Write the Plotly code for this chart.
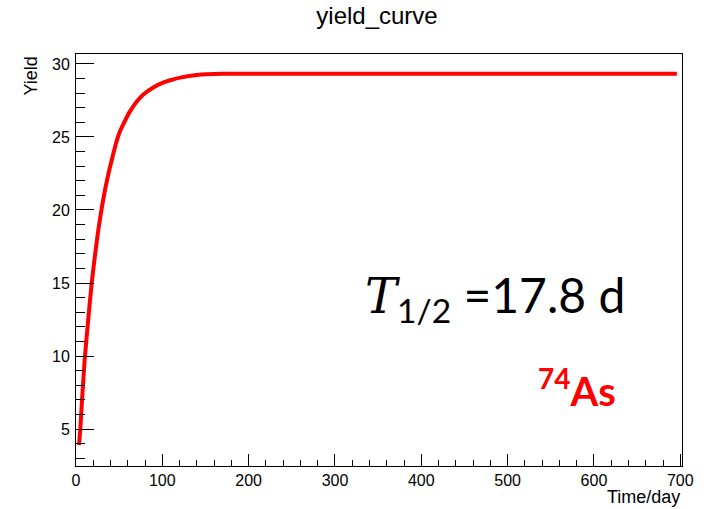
import plotly.graph_objects as go

# Data
time_day = [3.5, 5, 7, 10, 14, 18, 22, 26, 30, 34, 38, 43, 47, 51, 55, 62, 70, 78,
            90, 100, 110, 122, 140, 169, 200, 300, 400, 500, 600, 696]
yield_val = [3.9, 5.0, 7.0, 9.7, 12.4, 14.9, 16.9, 18.7, 20.2, 21.5, 22.6, 23.8,
             24.7, 25.4, 25.9, 26.7, 27.4, 27.9, 28.4, 28.7, 28.9, 29.08,
             29.24, 29.32, 29.32, 29.32, 29.32, 29.32, 29.32, 29.32]

x_range = [0, 702]
y_range = [2.47, 30.68]

fig = go.Figure()
fig.add_trace(go.Scatter(x=time_day, y=yield_val, mode="lines",
                         line=dict(color="#ff0000", width=4, shape="spline", smoothing=0.5),
                         showlegend=False))

axis_font = dict(family="Liberation Sans, Arial, sans-serif", size=16, color="black")

fig.update_layout(
    width=706, height=509,
    margin=dict(l=76, r=24, t=54, b=43),
    paper_bgcolor="white", plot_bgcolor="white",
    font=dict(family="Liberation Sans, Arial, sans-serif", color="black"),
    xaxis=dict(range=x_range, showgrid=False, zeroline=False, showline=True,
               linecolor="black", linewidth=1, mirror=True,
               ticks="inside", ticklen=12, tickcolor="black", tickwidth=1,
               dtick=100, tick0=0, tickfont=axis_font,
               minor=dict(ticks="inside", ticklen=6, dtick=20, tickcolor="black", showgrid=False)),
    yaxis=dict(range=y_range, showgrid=False, zeroline=False, showline=True,
               linecolor="black", linewidth=1, mirror=True,
               ticks="inside", ticklen=18, tickcolor="black", tickwidth=1,
               dtick=5, tick0=0, tickfont=axis_font, ticklabelstandoff=2,
               minor=dict(ticks="inside", ticklen=9, dtick=1, tickcolor="black", showgrid=False)),
    title=dict(text="yield_curve", x=377/706, xref="container", xanchor="center",
               y=1 - 16/509, yanchor="middle",
               font=dict(family="Liberation Sans, Arial, sans-serif", size=24, color="black")),
)

fig.add_annotation(text="Time/day", xref="paper", yref="paper", x=1.0, y=-(497-466)/412,
                   xanchor="right", yanchor="middle", showarrow=False,
                   font=dict(family="Liberation Sans, Arial, sans-serif", size=18, color="black"))
fig.add_annotation(text="Yield", xref="paper", yref="paper", x=-(76-30)/606, y=1.0 - 1/412,
                   xanchor="center", yanchor="top", textangle=-90, showarrow=False,
                   font=dict(family="Liberation Sans, Arial, sans-serif", size=18, color="black"))

fig.add_annotation(
    text="<span style='font-family:DejaVu Serif'><i>T</i></span><sub>1/2</sub> =17.8 d",
    xref="paper", yref="paper", x=(363-76)/606, y=(466-298)/412,
    xanchor="left", yanchor="middle", showarrow=False,
    font=dict(family="Lato, Open Sans, sans-serif", size=48, color="black"))
fig.add_annotation(
    text="<b><sup>74</sup>As</b>",
    xref="paper", yref="paper", x=(618-76)/606, y=(466-388)/412,
    xanchor="right", yanchor="middle", showarrow=False,
    font=dict(family="Lato, Open Sans, sans-serif", size=40, color="#ff0000"))

fig.write_html("out.html")
